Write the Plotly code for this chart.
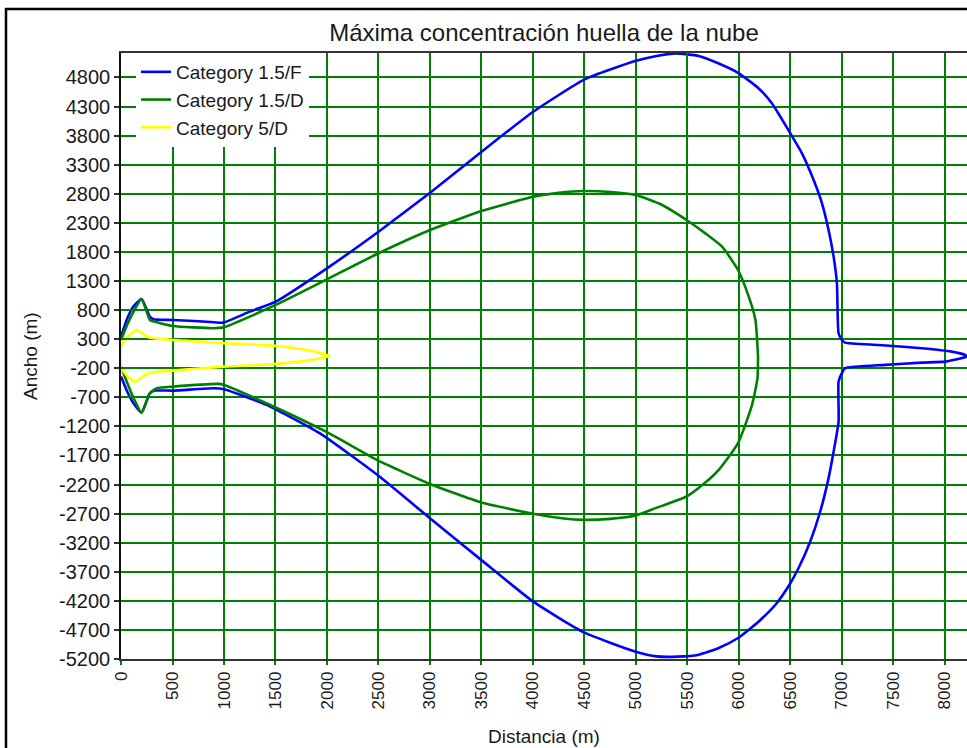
import plotly.graph_objects as go

# ---------------- data ----------------
series_names = ["Category 1.5/F", "Category 1.5/D", "Category 5/D"]
series_colors = ["#0000FF", "#008000", "#FFFF00"]

# Category 1.5/F  (upper edge, then lower edge)
f_top_x = [0, 55, 120, 200, 280, 315, 505, 830, 990, 1250, 1502, 2000, 2500, 3001, 3501, 4002, 4502,
           5000, 5200, 5385, 5610, 5804, 5991, 6192, 6321, 6490, 6612, 6725, 6806, 6870, 6919, 6951,
           6967, 6999, 7031, 7354, 7775, 8065, 8195, 8214]
f_top_y = [340, 630, 860, 990, 686, 642, 630, 600, 584, 773, 945, 1518, 2147, 2817, 3522, 4209, 4766,
           5085, 5170, 5212, 5170, 5040, 4880, 4611, 4353, 3865, 3494, 3035, 2635, 2176, 1718, 1260,
           401, 286, 240, 200, 143, 85, 28, 5]
f_bot_x = [0, 60, 120, 200, 280, 330, 505, 900, 1000, 1412, 1928, 2500, 3000, 3500, 3999, 4496, 4990,
           5200, 5400, 5610, 5804, 5991, 6192, 6354, 6490, 6579, 6692, 6789, 6870, 6919, 6967, 6967,
           6999, 7031, 7419, 7775, 8001, 8195, 8214]
f_bot_y = [-344, -600, -800, -965, -630, -585, -585, -544, -560, -830, -1317, -2050, -2780, -3500,
           -4210, -4743, -5070, -5155, -5160, -5126, -5011, -4839, -4554, -4267, -3923, -3636, -3180,
           -2664, -2090, -1633, -1117, -430, -286, -200, -143, -104, -87, -12, 5]

# Category 1.5/D
d_top_x = [0, 60, 130, 200, 280, 330, 505, 890, 998, 1502, 2000, 2500, 3001, 3501, 4002, 4250, 4496,
           4750, 4997, 5250, 5491, 5680, 5836, 5991, 6095, 6160, 6185]
d_top_y = [285, 550, 800, 990, 630, 600, 527, 488, 504, 888, 1329, 1776, 2176, 2503, 2749, 2815, 2846,
           2830, 2778, 2610, 2348, 2110, 1889, 1489, 1030, 630, 0]
d_bot_x = [0, 60, 130, 200, 280, 350, 505, 950, 1000, 1412, 2000, 2500, 3000, 3500, 4060, 4300, 4496,
           4750, 4997, 5191, 5491, 5650, 5804, 5991, 6127, 6180, 6185]
d_bot_y = [-172, -450, -745, -965, -630, -544, -516, -470, -487, -802, -1300, -1790, -2190, -2510,
           -2721, -2785, -2807, -2790, -2733, -2606, -2406, -2200, -1947, -1489, -830, -370, 0]

# Category 5/D
y5_top_x = [0, 60, 152, 265, 504, 765, 998, 1509, 1860, 2030]
y5_top_y = [170, 330, 458, 333, 286, 257, 230, 183, 98, 10]
y5_bot_x = [0, 60, 136, 265, 504, 998, 1509, 1860, 2030]
y5_bot_y = [-185, -330, -430, -286, -241, -172, -126, -57, 10]

x_ticks = list(range(0, 8001, 500))
y_ticks = list(range(-5200, 4801, 500))

# ---------------- figure ----------------
FONT = "Liberation Sans, Arial, sans-serif"
GRID = "#008000"
TXT = "#1a1a1a"

def outline(tx, ty, bx, by, closed=False):
    xs = list(tx) + list(reversed(bx))
    ys = list(ty) + list(reversed(by))
    if closed:
        xs.append(tx[0]); ys.append(ty[0])
    return xs, ys

paths = [
    outline(f_top_x, f_top_y, f_bot_x, f_bot_y),
    outline(d_top_x, d_top_y, d_bot_x, d_bot_y),
    outline(y5_top_x, y5_top_y, y5_bot_x, y5_bot_y, closed=True),
]

fig = go.Figure()
for (xs, ys), name, col in zip(paths, series_names, series_colors):
    fig.add_trace(go.Scatter(x=xs, y=ys, mode="lines", name=name,
                             line=dict(color=col, width=2.6, shape="spline", smoothing=0.5)))

L, R, T, B = 121, 0, 53, 89
W, H = 967, 748
pw, ph = W - L - R, H - T - B

fig.update_layout(
    width=W, height=H,
    margin=dict(l=L, r=R, t=T, b=B),
    paper_bgcolor="white", plot_bgcolor="white",
    font=dict(family=FONT, size=19, color=TXT),
    title=dict(text="Máxima concentración huella de la nube", x=(L + pw / 2) / W, xanchor="center",
               y=1 - 33 / H, yanchor="middle", xref="container",
               font=dict(size=24, color=TXT)),
    showlegend=True,
    legend=dict(x=15 / pw, y=1.0, xanchor="left", yanchor="top",
                bgcolor="white", borderwidth=0, font=dict(size=19, color=TXT),
                tracegroupgap=0),
    xaxis=dict(range=[0, 8214], tickvals=x_ticks, ticktext=[str(v) for v in x_ticks],
               tickangle=-90, showgrid=True, gridcolor=GRID, gridwidth=1.6,
               showline=True, linecolor="#333333", linewidth=1.6, mirror=True,
               ticks="outside", ticklen=4, tickcolor=GRID, tickwidth=1.6,
               tickfont=dict(size=17), zeroline=False),
    yaxis=dict(range=[-5200, 5220], tickvals=y_ticks, ticktext=[str(v) for v in y_ticks],
               showgrid=True, gridcolor=GRID, gridwidth=1.6,
               showline=True, linecolor="#111111", linewidth=1.6,
               ticks="outside", ticklen=5, tickcolor="#333333", tickwidth=1.6,
               tickfont=dict(size=20), zeroline=False),
    xaxis2=dict(overlaying="x", matches="x", side="top", tickvals=x_ticks,
                showticklabels=False, ticks="inside", ticklen=5, tickcolor=GRID, tickwidth=1.6,
                showgrid=False, zeroline=False, showline=False),
    yaxis2=dict(overlaying="y", matches="y", side="left", tickvals=y_ticks,
                showticklabels=False, ticks="inside", ticklen=14, tickcolor=GRID, tickwidth=1.6,
                showgrid=False, zeroline=False, showline=False),
)

# invisible helper trace so the overlay axes get drawn
fig.add_trace(go.Scatter(x=[0], y=[0], xaxis="x2", yaxis="y2", mode="markers",
                         marker=dict(opacity=0), showlegend=False, hoverinfo="skip"))

fig.add_annotation(text="Distancia (m)", xref="paper", yref="paper", x=0.5, y=-(736 - (T + ph)) / ph,
                   showarrow=False, xanchor="center", yanchor="middle",
                   font=dict(size=19, color=TXT))
fig.add_annotation(text="Ancho (m)", xref="paper", yref="paper", x=-(L - 30) / pw, y=0.5,
                   showarrow=False, xanchor="center", yanchor="middle", textangle=-90,
                   font=dict(size=19, color=TXT))

# outer frame of the picture
fig.add_shape(type="rect", xref="paper", yref="paper",
              x0=-(L - 6) / pw, x1=1.2, y0=-0.3, y1=1 + (T - 9) / ph,
              line=dict(color="black", width=2.5), fillcolor="rgba(0,0,0,0)", layer="above")

fig.write_html("out.html", config={"displayModeBar": False},
               post_script="document.body.style.margin='0';document.body.style.overflow='hidden';")
